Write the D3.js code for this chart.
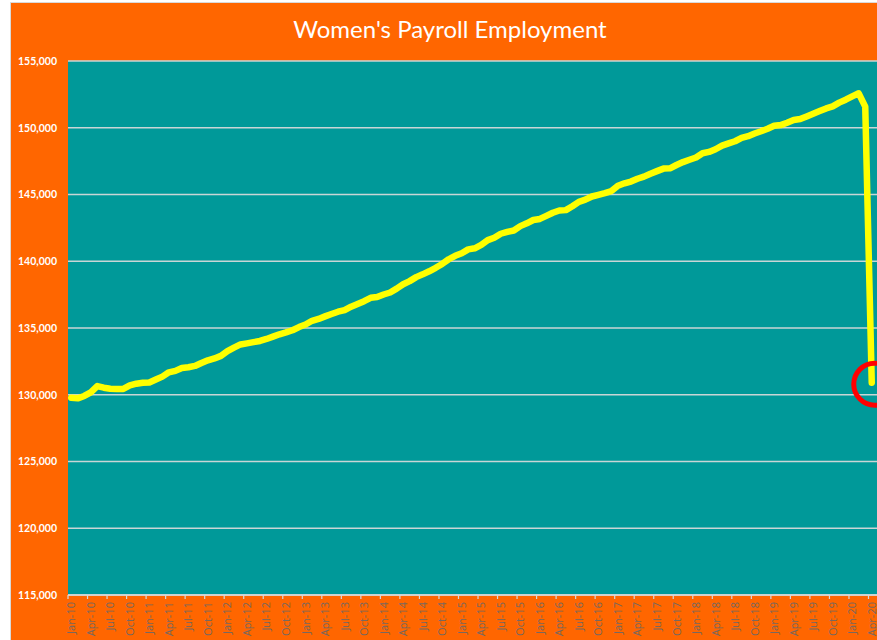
<!DOCTYPE html>
<html>
<head>
<meta charset="utf-8">
<script src="https://cdn.jsdelivr.net/npm/d3@7"></script>
<style>
  body { margin: 0; background: #fff; }
  svg { display: block; }
</style>
</head>
<body>
<div id="chart"></div>
<script>
var width = 877;
var height = 640;

// categories: Jan-10 .. Apr-20
var years = ["10", "11", "12", "13", "14", "15", "16", "17", "18", "19", "20"];
var monthNames = ["Jan", "Feb", "Mar", "Apr", "May", "Jun", "Jul", "Aug", "Sep", "Oct", "Nov", "Dec"];
var lastMonthCount = 4; // 2020 runs Jan..Apr

// payroll employment, thousands
var v2010 = [129780, 129730, 129910, 130180, 130650, 130530, 130450, 130440, 130440, 130700, 130830, 130900];
var v2011 = [130920, 131140, 131360, 131680, 131790, 132010, 132060, 132160, 132380, 132580, 132720, 132910];
var v2012 = [133270, 133530, 133770, 133850, 133940, 134030, 134180, 134350, 134530, 134670, 134830, 135070];
var v2013 = [135260, 135540, 135680, 135870, 136050, 136220, 136340, 136600, 136800, 137010, 137260, 137320];
var v2014 = [137510, 137660, 137950, 138280, 138510, 138810, 139020, 139250, 139510, 139800, 140150, 140410];
var v2015 = [140600, 140890, 140970, 141220, 141580, 141760, 142060, 142200, 142300, 142630, 142840, 143090];
var v2016 = [143170, 143400, 143630, 143800, 143830, 144120, 144450, 144610, 144850, 144980, 145110, 145260];
var v2017 = [145660, 145840, 145970, 146180, 146340, 146560, 146750, 146940, 146960, 147210, 147430, 147600];
var v2018 = [147770, 148090, 148190, 148390, 148660, 148830, 148990, 149240, 149370, 149570, 149740, 149930];
var v2019 = [150150, 150200, 150380, 150580, 150650, 150850, 151050, 151250, 151450, 151600, 151880, 152100];
var v2020 = [152350, 152580, 151580, 130900];

var yTicks = [115000, 120000, 125000, 130000, 135000, 140000, 145000, 150000, 155000];

var categories = [];
years.forEach(function (yy, i) {
    var n = (i === years.length - 1) ? lastMonthCount : 12;
    for (var m = 0; m < n; m++) categories.push(monthNames[m] + "-" + yy);
});
var values = [].concat(v2010, v2011, v2012, v2013, v2014, v2015, v2016, v2017, v2018, v2019, v2020);
var data = categories.map(function (c, i) { return {label: c, value: values[i]}; });

var plot = {left: 68, right: 875, top: 61, bottom: 595};

var svg = d3.select("#chart")
    .append("svg")
    .attr("width", width)
    .attr("height", height);

// outer chart area
svg.append("rect")
    .attr("x", 10.5).attr("y", 2.5)
    .attr("width", width).attr("height", height)
    .attr("fill", "#FF6600")
    .attr("stroke", "#d9d9d9");

svg.append("text")
    .attr("x", 450).attr("y", 38)
    .attr("text-anchor", "middle")
    .attr("fill", "#fff")
    .style("font-family", "Lato, 'Open Sans', sans-serif")
    .style("font-size", "24px")
    .text("Women's Payroll Employment");

var x = d3.scaleBand()
    .domain(categories)
    .range([plot.left, plot.right])
    .paddingInner(0).paddingOuter(0);

var y = d3.scaleLinear()
    .domain([115000, 155000])
    .range([plot.bottom, plot.top]);

svg.append("rect")
    .attr("x", plot.left).attr("y", plot.top)
    .attr("width", plot.right - plot.left + 10)
    .attr("height", plot.bottom - plot.top)
    .attr("fill", "#009999");

// gridlines
svg.append("g")
    .selectAll("line")
    .data(yTicks)
    .enter().append("line")
    .attr("x1", plot.left).attr("x2", width)
    .attr("y1", function (d) { return y(d); })
    .attr("y2", function (d) { return y(d); })
    .attr("stroke", "#c9d6d6")
    .attr("stroke-width", 1.3);

// y labels
var yAxis = svg.append("g")
    .attr("transform", "translate(" + (plot.left - 11) + ",0)")
    .call(d3.axisLeft(y).tickValues(yTicks).tickSize(0).tickFormat(d3.format(",")));
yAxis.select(".domain").remove();
yAxis.selectAll("text")
    .attr("x", 0)
    .attr("fill", "#fff")
    .style("font-family", "Lato, 'Open Sans', sans-serif")
    .style("font-size", "10.5px")
    .style("font-weight", "bold");

// x axis line and ticks at category boundaries every 3 months
var tickCats = categories.filter(function (d, i) { return i % 3 === 0; });
svg.append("line")
    .attr("x1", plot.left).attr("x2", width)
    .attr("y1", plot.bottom).attr("y2", plot.bottom)
    .attr("stroke", "#d9d9d9")
    .attr("stroke-width", 1.3);
svg.append("g")
    .selectAll("line")
    .data(tickCats)
    .enter().append("line")
    .attr("x1", function (d) { return x(d); })
    .attr("x2", function (d) { return x(d); })
    .attr("y1", plot.bottom).attr("y2", plot.bottom + 4)
    .attr("stroke", "#d9d9d9")
    .attr("stroke-width", 1.2);

svg.append("g")
    .selectAll("text")
    .data(tickCats)
    .enter().append("text")
    .attr("transform", function (d) {
        return "translate(" + (x(d) + x.bandwidth() / 2 + 4) + "," + (plot.bottom + 7) + ") rotate(-90)";
    })
    .attr("text-anchor", "end")
    .attr("fill", "#77685f")
    .style("font-family", "'Open Sans', Lato, sans-serif")
    .style("font-size", "11px")
    .text(function (d) { return d; });

// the line
var line = d3.line()
    .x(function (d) { return x(d.label) + x.bandwidth() / 2; })
    .y(function (d) { return y(d.value); });

svg.append("path")
    .datum(data)
    .attr("d", line)
    .attr("fill", "none")
    .attr("stroke", "#FFFF00")
    .attr("stroke-width", 6.5)
    .attr("stroke-linejoin", "round")
    .attr("stroke-linecap", "round");

// red circle around the April 2020 point
var last = data[data.length - 1];
svg.append("circle")
    .attr("cx", x(last.label) + x.bandwidth() / 2 + 3)
    .attr("cy", y(last.value) + 1.5)
    .attr("r", 21)
    .attr("fill", "none")
    .attr("stroke", "#FF0000")
    .attr("stroke-width", 5);
</script>
</body>
</html>
